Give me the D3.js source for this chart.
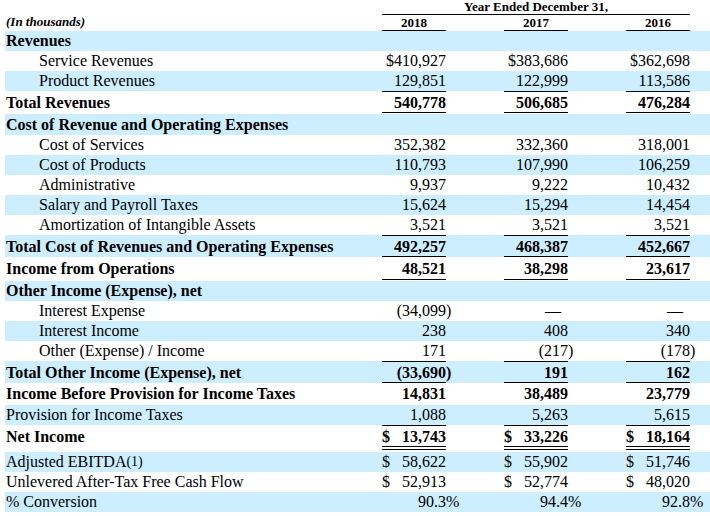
<!DOCTYPE html>
<html>
<head>
<meta charset="utf-8">
<script src="https://cdn.jsdelivr.net/npm/d3@7/dist/d3.min.js"></script>
<style>
  html, body { margin: 0; padding: 0; background: #ffffff; }
  svg { display: block; }
  text { font-family: "Times New Roman", "Liberation Serif", serif; fill: #000; }
</style>
</head>
<body>
<svg id="chart" width="710" height="516"></svg>
<script>
// ---------- DATA ----------
const years = ["2018", "2017", "2016"];
const headerTitle = "Year Ended December 31,";
const unitsNote = "(In thousands)";

const labels = [
  "Revenues",
  "Service Revenues",
  "Product Revenues",
  "Total Revenues",
  "Cost of Revenue and Operating Expenses",
  "Cost of Services",
  "Cost of Products",
  "Administrative",
  "Salary and Payroll Taxes",
  "Amortization of Intangible Assets",
  "Total Cost of Revenues and Operating Expenses",
  "Income from Operations",
  "Other Income (Expense), net",
  "Interest Expense",
  "Interest Income",
  "Other (Expense) / Income",
  "Total Other Income (Expense), net",
  "Income Before Provision for Income Taxes",
  "Provision for Income Taxes",
  "Net Income",
  "Adjusted EBITDA",
  "Unlevered After-Tax Free Cash Flow",
  "% Conversion"
];
const footnoteMarks = ["", "", "", "", "", "", "", "", "", "", "", "", "", "", "", "", "", "", "", "", "(1)", "", ""];

const values2018 = [null, 410927, 129851, 540778, null, 352382, 110793, 9937, 15624, 3521, 492257, 48521, null, -34099, 238, 171, -33690, 14831, 1088, 13743, 58622, 52913, 90.3];
const values2017 = [null, 383686, 122999, 506685, null, 332360, 107990, 9222, 15294, 3521, 468387, 38298, null, 0, 408, -217, 191, 38489, 5263, 33226, 55902, 52774, 94.4];
const values2016 = [null, 362698, 113586, 476284, null, 318001, 106259, 10432, 14454, 3521, 452667, 23617, null, 0, 340, -178, 162, 23779, 5615, 18164, 51746, 48020, 92.8];

// ---------- LAYOUT / STYLE (not data) ----------
const rowKind = ["section","item","item","total","section","item","item","item","item","item","total","total","section","item","item","item","total","total","plain","total","plain","plain","plain"];
const rowFormat = ["none","dollarTight","num","num","none","num","num","num","num","num","num","num","none","num","num","num","num","num","num","dollar","dollar","dollar","pct"];
const rowHeight = [20,20,20,23,21,20,20,20,20,20,22,24,20,20,20,20,22,22,20,27,20,20,20];
const rowBase   = [15,15,15,17,16,15,15,15,15,15,17,17,15,15,15,15,17,15.5,15,17,15,15,15];
const rowRules  = [[],[],[20],[21],[],[],[],[],[],[20],[21],[22],[],[],[],[20],[21],[],[20],[21,24],[],[],[]];
const shade = "#cceeff";

const svg = d3.select("#chart");
const tableTop = 31;
const tops = [tableTop, ...d3.cumsum(rowHeight).map(c => tableTop + c)].slice(0, labels.length);

const colRight = d3.scalePoint().domain(years).range([446, 690]);
const colWidth = 64;
const valuesByYear = { "2018": values2018, "2017": values2017, "2016": values2016 };
const fmt = d3.format(",");

// shading
svg.append("g").selectAll("rect")
  .data(labels.map((l, i) => i).filter(i => i % 2 === 0))
  .join("rect")
  .attr("x", 5).attr("width", 705)
  .attr("y", i => tops[i]).attr("height", i => rowHeight[i])
  .attr("fill", shade);

// header
svg.append("text").attr("x", 6).attr("y", 26)
  .style("font-size", "13px").style("font-weight", "bold").style("font-style", "italic")
  .text(unitsNote);
svg.append("text").attr("x", (colRight("2018") - colWidth + colRight("2016")) / 2).attr("y", 11)
  .attr("text-anchor", "middle")
  .style("font-size", "13px").style("font-weight", "bold")
  .text(headerTitle);
svg.append("line")
  .attr("x1", colRight("2018") - colWidth).attr("x2", colRight("2016"))
  .attr("y1", 14.5).attr("y2", 14.5).attr("stroke", "#000");
years.forEach(y => {
  svg.append("text").attr("x", colRight(y) - colWidth / 2).attr("y", 27)
    .attr("text-anchor", "middle")
    .style("font-size", "13px").style("font-weight", "bold")
    .text(y);
  svg.append("line")
    .attr("x1", colRight(y) - colWidth).attr("x2", colRight(y))
    .attr("y1", 30.5).attr("y2", 30.5).attr("stroke", "#000");
});

// labels
const lab = svg.append("g").selectAll("text")
  .data(labels)
  .join("text")
  .attr("x", (d, i) => rowKind[i] === "item" ? 39 : 6)
  .attr("y", (d, i) => tops[i] + rowBase[i])
  .style("font-size", "16px")
  .style("font-weight", (d, i) => (rowKind[i] === "section" || rowKind[i] === "total") ? "bold" : "normal")
  .text(d => d);
lab.filter((d, i) => footnoteMarks[i]).append("tspan")
  .attr("dy", -1).style("font-size", "14px")
  .text(d => footnoteMarks[labels.indexOf(d)]);

// values
years.forEach(yr => {
  const vals = valuesByYear[yr];
  const g = svg.append("g");
  const xr = colRight(yr);
  vals.forEach((v, i) => {
    if (v === null || rowFormat[i] === "none") return;
    const yb = tops[i] + rowBase[i];
    const bold = rowKind[i] === "total" ? "bold" : "normal";
    const t = (s, x, anchor) => g.append("text").attr("x", x).attr("y", yb)
      .attr("text-anchor", anchor).style("font-size", "16px").style("font-weight", bold).text(s);
    if (rowFormat[i] === "pct") {
      t(d3.format(".1f")(v), xr, "end");
      t("%", xr, "start");
      return;
    }
    if (v === 0) { t("\u2014", xr - 7, "end"); return; }
    let s = fmt(Math.abs(v));
    if (rowFormat[i] === "dollarTight") s = "$" + s;
    if (rowFormat[i] === "dollar") t("$", xr - colWidth, "start");
    if (v < 0) { t("(" + s, xr, "end"); t(")", xr, "start"); }
    else t(s, xr, "end");
  });
  rowRules.forEach((rs, i) => rs.forEach(off => {
    g.append("line")
      .attr("x1", xr - colWidth).attr("x2", xr)
      .attr("y1", tops[i] + off + 0.5).attr("y2", tops[i] + off + 0.5)
      .attr("stroke", "#000");
  }));
});
</script>
</body>
</html>
